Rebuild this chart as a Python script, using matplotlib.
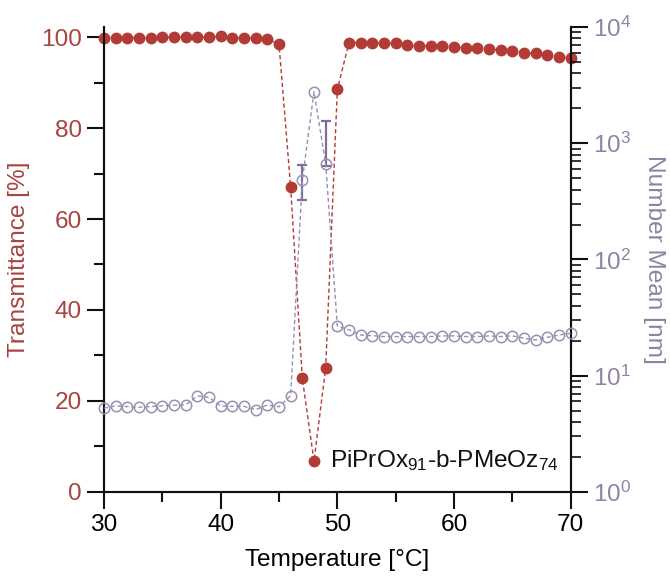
import matplotlib
matplotlib.use("Agg")
import matplotlib.pyplot as plt
from matplotlib.ticker import MultipleLocator, LogLocator, LogFormatterMathtext, NullFormatter

plt.rcParams['font.family'] = ['Liberation Sans', 'DejaVu Sans']
plt.rcParams['mathtext.default'] = 'regular'

temperature = list(range(30, 71))
transmittance = [99.9, 99.9, 99.9, 99.9, 99.9, 100.0, 100.0, 100.0, 100.0, 100.0,
                 100.2, 99.8, 99.8, 99.7, 99.5, 98.5, 67.0, 25.0, 6.8, 27.2,
                 88.5, 98.8, 98.8, 98.8, 98.6, 98.6, 98.2, 98.1, 98.1, 98.1,
                 97.9, 97.5, 97.6, 97.4, 97.1, 96.9, 96.4, 96.4, 96.0, 95.7, 95.3]
number_mean = [5.25, 5.5, 5.42, 5.35, 5.42, 5.5, 5.57, 5.6, 6.7, 6.5,
               5.5, 5.45, 5.45, 5.1, 5.6, 5.4, 6.74, 483, 2775, 665,
               26.8, 24.8, 22.4, 22.1, 21.7, 21.7, 21.7, 21.7, 21.7, 22.0,
               22.0, 21.7, 21.7, 22.0, 21.7, 22.0, 21.0, 20.3, 21.4, 22.4, 23.2]
err_temps = [47, 49]
err_vals = [483, 665]
err_low = [158, 30]
err_high = [163, 895]

label_text = "PiPrOx$_{91}$-b-PMeOz$_{74}$"

red = '#b23b36'
red_text = '#a8443f'
lav = '#9a8fb3'
lav_text = '#8f82a6'
err_col = '#7d6e9e'
fs = 17.6

fig = plt.figure(figsize=(6.7, 5.76), dpi=100)
ax = fig.add_axes([0.155, 0.146, 0.697, 0.807])
ax2 = ax.twinx()

ax.plot(temperature, transmittance, linestyle=(0, (3, 2)), color=red, lw=1.0,
        marker='o', markersize=7.5, markerfacecolor=red, markeredgecolor=red,
        clip_on=False, zorder=3)

ax2.plot(temperature, number_mean, linestyle=(0, (3, 2)), color=lav, lw=1.0,
         marker='o', markersize=7.5, markerfacecolor='none', markeredgecolor=lav,
         markeredgewidth=1.1, clip_on=False, zorder=3)
ax2.errorbar(err_temps, err_vals, yerr=[err_low, err_high], fmt='none',
             ecolor=err_col, elinewidth=1.6, capsize=3.5, capthick=1.6, zorder=2)

ax.set_xlim(30, 70)
ax.set_ylim(0, 102.2)
ax2.set_yscale('log')
ax2.set_ylim(1, 1e4)

ax.xaxis.set_major_locator(MultipleLocator(10))
ax.xaxis.set_minor_locator(MultipleLocator(5))
ax.yaxis.set_major_locator(MultipleLocator(20))
ax.yaxis.set_minor_locator(MultipleLocator(10))
ax2.yaxis.set_major_locator(LogLocator(base=10, numticks=10))
ax2.yaxis.set_minor_locator(LogLocator(base=10, subs=range(2, 10), numticks=20))
ax2.yaxis.set_major_formatter(LogFormatterMathtext())
ax2.yaxis.set_minor_formatter(NullFormatter())

for a in (ax, ax2):
    a.spines['top'].set_visible(False)
    for s in a.spines.values():
        s.set_linewidth(1.5)
        s.set_color('#111111')

ax.tick_params(axis='both', which='major', direction='out', length=12, width=1.5,
               labelsize=fs, pad=4, color='#111111')
ax.tick_params(axis='both', which='minor', direction='out', length=7, width=1.5,
               color='#111111')
ax.tick_params(axis='y', labelcolor=red_text)
ax2.tick_params(axis='y', which='major', direction='out', length=12, width=1.5,
                labelsize=fs, labelcolor=lav_text, color='#111111', pad=4)
ax2.tick_params(axis='y', which='minor', direction='out', length=7, width=1.2,
                color='#111111')

ax.set_xlabel('Temperature [°C]', fontsize=fs, labelpad=9)
ax.set_ylabel('Transmittance [%]', fontsize=fs, color=red_text, labelpad=8)
ax2.set_ylabel('Number Mean [nm]', fontsize=fs, color=lav_text, rotation=270,
               labelpad=24)

ax.text(49.4, 6.8, label_text, fontsize=fs, va='center', ha='left', color='#111111')

fig.savefig('out.png', dpi=100)
